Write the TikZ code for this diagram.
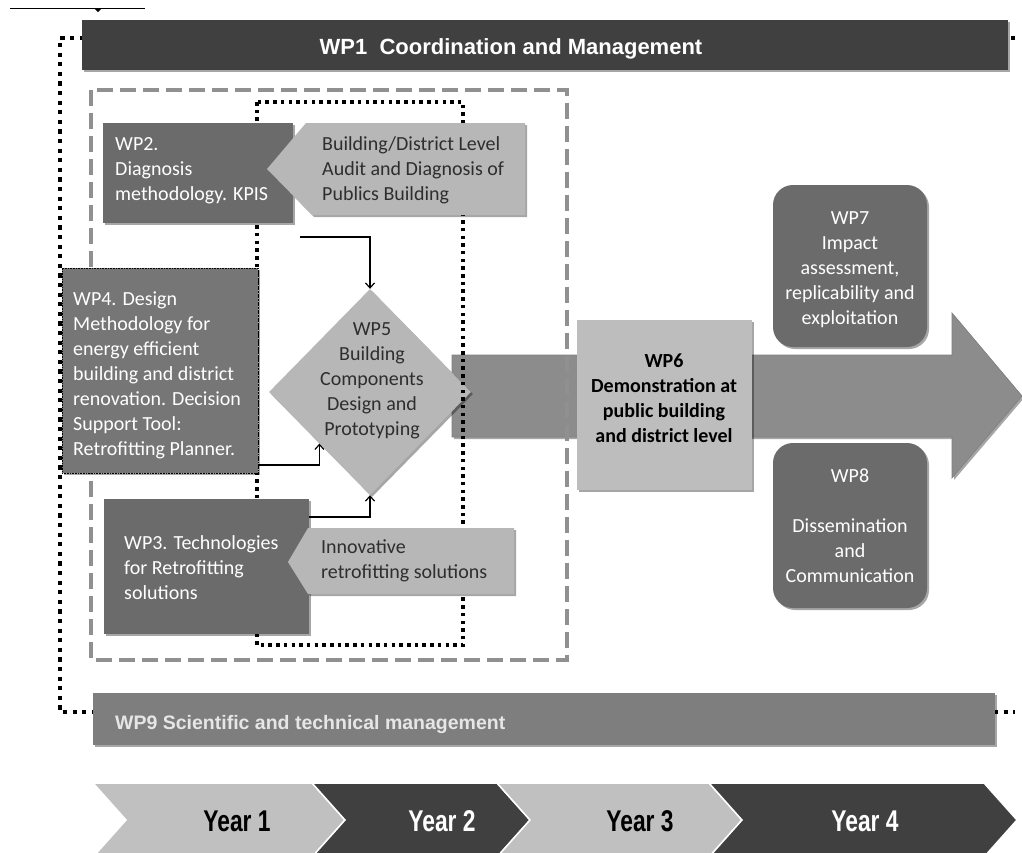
\documentclass[tikz,border=0pt]{standalone}
\usepackage{fontspec}
\setmainfont{Carlito}
\newfontfamily\barfont{Liberation Sans}
\newfontfamily\yearfont[FakeStretch=0.76]{Liberation Sans}
\usetikzlibrary{shapes.geometric,shadows,arrows.meta}

\definecolor{bardark}{HTML}{404040}
\definecolor{barmid}{HTML}{7E7E7E}
\definecolor{boxdark}{HTML}{6B6B6B}
\definecolor{boxmid}{HTML}{767676}
\definecolor{boxlight}{HTML}{B7B7B7}
\definecolor{wpsixgray}{HTML}{BDBDBD}
\definecolor{arrowgray}{HTML}{8C8C8C}
\definecolor{dashgray}{HTML}{909090}
\definecolor{chevlight}{HTML}{C0C0C0}
\definecolor{textdark}{HTML}{2E2E2E}
\definecolor{barwhite}{HTML}{E6E6E6}

\tikzset{
  softshadow/.style={drop shadow={shadow xshift=2pt,shadow yshift=-2pt,opacity=0.35,fill=black}},
  box/.style={anchor=north west,inner sep=0pt,outer sep=0pt,softshadow},
  txt/.style={inner sep=0pt,font=\fontsize{20}{25}\selectfont},
  ltxt/.style={txt,anchor=north west,align=left},
  ctxt/.style={txt,anchor=north,align=center},
  conn/.style={draw=black,line width=1.2pt,-{Straight Barb[length=5pt,width=9pt]}},
  outerdot/.style={draw=black,line width=4.2pt,dash pattern=on 4.2pt off 5.4pt},
  innerdot/.style={draw=black,line width=3.5pt,dash pattern=on 3.5pt off 4.2pt},
  graydash/.style={draw=dashgray,line width=4.2pt,dash pattern=on 16pt off 7pt},
  chevron/.style={draw=white,line width=1.5pt},
  yeartxt/.style={anchor=base,inner sep=0pt,font=\yearfont\bfseries\fontsize{30}{30}\selectfont}
}

\begin{document}
\begin{tikzpicture}[x=1pt,y=-1pt]
\useasboundingbox (0,0) rectangle (1022,852);
\fill[white] (0,0) rectangle (1022,852);

% stray line at top left
\draw[line width=1pt] (10,8) -- (145,8);
\fill (94,8) -- (102,8) -- (98,12) -- cycle;

% big arrow
\filldraw[fill=arrowgray,draw=black!50,line width=0.6pt,softshadow]
  (452,355) -- (952,355) -- (952,313) -- (1022,396) -- (952,478) -- (952,437) -- (452,437) -- cycle;

% WP5 diamond
\node[shape=diamond,fill=boxlight,inner sep=0pt,minimum width=202,minimum height=206,softshadow] (wp5) at (370,392) {};
\node[ctxt,text=textdark] (wp5t) at (372,317.5) {\strut WP5\\Building\\Components\\Design and\\Prototyping};

% gray dashed frame
\draw[graydash] (91,90) rectangle (567,660);

% outer dotted frame and inner dotted frame
\draw[outerdot] (1015,38) -- (60,38) -- (60,712) -- (1015,712);
\draw[innerdot] (257,102) rectangle (463,645);

% WP4
\node[box,fill=boxmid,draw=black,line width=0.6pt,densely dotted,minimum width=196,minimum height=205] (wp4) at (62,268) {};
\node[ltxt,text=white] (wp4t) at (73,287.5) {\strut WP4. Design\\Methodology for\\energy efficient\\building and district\\renovation. Decision\\Support Tool:\\Retrofitting Planner.};

% WP2
\node[box,fill=boxdark,minimum width=190,minimum height=100] (wp2) at (103,123) {};
\node[ltxt,text=white] (wp2t) at (115,132.5) {\strut WP2.\\Diagnosis\\methodology. KPIS};

% Building/District callout
\fill[boxlight,softshadow] (306,123) -- (525,123) -- (525,215) -- (312,215) -- (267,169) -- cycle;
\node[ltxt,text=textdark] (audit) at (322,132.5) {\strut Building/District Level\\Audit and Diagnosis of\\Publics Building};

% WP3
\node[box,fill=boxdark,minimum width=205,minimum height=135] (wp3) at (104,499) {};
\node[ltxt,text=white] (wp3t) at (124,531.5) {\strut WP3. Technologies\\for Retrofitting\\solutions};

% Innovative callout
\fill[boxlight,softshadow] (308,528) -- (514,528) -- (514,594) -- (308,594) -- (288,562) -- cycle;
\node[ltxt,text=textdark] (innov) at (321,536) {\strut Innovative\\retrofitting solutions};

% WP6
\node[box,fill=wpsixgray,minimum width=175,minimum height=170] (wp6) at (577,320) {};
\node[ctxt,text=black,font=\bfseries\fontsize{20}{25}\selectfont] (wp6t) at (664,349.5) {\strut WP6\\Demonstration at\\public building\\and district level};

% WP7 and WP8
\node[box,fill=boxdark,rounded corners=20pt,minimum width=154,minimum height=162] (wp7) at (773,185) {};
\node[ctxt,text=white] (wp7t) at (850,206.5) {\strut WP7\\Impact\\assessment,\\replicability and\\exploitation};
\node[box,fill=boxdark,rounded corners=20pt,minimum width=154,minimum height=165] (wp8) at (773,443) {};
\node[ctxt,text=white] (wp8t) at (850,464.5) {\strut WP8\\[25pt]Dissemination\\and\\Communication};

% WP1 bar
\node[box,fill=bardark,minimum width=926,minimum height=50] (wp1) at (82,20) {};
\node[anchor=base,inner sep=0pt,text=white,font=\barfont\bfseries\fontsize{22}{22}\selectfont] (wp1t) at (511,54) {WP1\ \ Coordination and Management};

% WP9 bar
\node[box,fill=barmid,minimum width=902,minimum height=52] (wp9) at (93,693) {};
\node[anchor=base west,inner sep=0pt,text=barwhite,font=\barfont\bfseries\fontsize{19.5}{19.5}\selectfont] (wp9t) at (115,729) {WP9 Scientific and technical management};

% year chevrons
\filldraw[chevron,fill=chevlight] (93,783) -- (312,783) -- (345,820) -- (312,857) -- (93,857) -- (126,820) -- cycle;
\filldraw[chevron,fill=bardark] (312,783) -- (497,783) -- (530,820) -- (497,857) -- (312,857) -- (345,820) -- cycle;
\filldraw[chevron,fill=chevlight] (497,783) -- (709,783) -- (742,820) -- (709,857) -- (497,857) -- (530,820) -- cycle;
\filldraw[chevron,fill=bardark] (709,783) -- (984,783) -- (1017,820) -- (984,857) -- (709,857) -- (742,820) -- cycle;
\node[yeartxt,text=black] (y1) at (237,831) {Year 1};
\node[yeartxt,text=white] (y2) at (442,831) {Year 2};
\node[yeartxt,text=black] (y3) at (640,831) {Year 3};
\node[yeartxt,text=white] (y4) at (865,831) {Year 4};

% connectors
\coordinate (s2) at (300,237);
\draw[conn] (s2) -| (wp5.north);
\draw[conn] ([yshift=8pt]wp4.south east) -| (wp5.south west);
\draw[conn] ([yshift=-18pt]wp3.north east) -| (wp5.south);
\end{tikzpicture}
\end{document}
